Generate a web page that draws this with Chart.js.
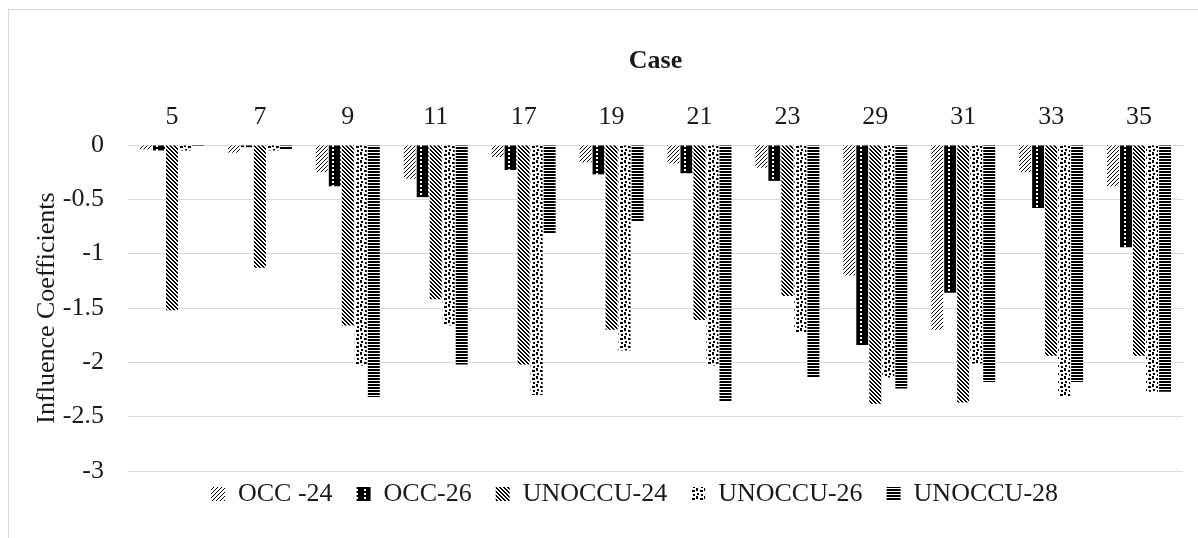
<!DOCTYPE html>
<html lang="en">
<head>
  <meta charset="UTF-8" />
  <title>Influence Coefficients by Case</title>
  <script src="https://cdn.jsdelivr.net/npm/chart.js"></script>
  <style>
    html, body { margin: 0; padding: 0; background: #fff; overflow: hidden; }
    #marco { position: absolute; left: 8px; top: 9px; width: 1400px; height: 800px; border: 1px solid #d9d9d9; }
    #grafico { position: absolute; left: 0; top: 0; }
  </style>
</head>
<body>
  <div id="marco"></div>
  <canvas id="grafico" width="1198" height="538"></canvas>

  <script>
    const cases = ["5", "7", "9", "11", "17", "19", "21", "23", "29", "31", "33", "35"];
    const occ24 = [-0.04, -0.07, -0.25, -0.31, -0.11, -0.16, -0.17, -0.21, -1.20, -1.70, -0.25, -0.38];
    const occ26 = [-0.05, -0.02, -0.38, -0.48, -0.23, -0.27, -0.26, -0.33, -1.84, -1.36, -0.58, -0.94];
    const unoccu24 = [-1.52, -1.13, -1.66, -1.42, -2.02, -1.70, -1.61, -1.39, -2.38, -2.37, -1.94, -1.94];
    const unoccu26 = [-0.05, -0.05, -2.03, -1.66, -2.30, -1.89, -2.03, -1.73, -2.14, -2.01, -2.32, -2.27];
    const unoccu28 = [-0.015, -0.04, -2.32, -2.02, -0.82, -0.70, -2.36, -2.14, -2.24, -2.18, -2.18, -2.27];
    const yTicks = [0, -0.5, -1, -1.5, -2, -2.5, -3];

    // tramas en blanco y negro como en el original
    function trama(tipo) {
      const c = document.createElement("canvas");
      const n = tipo === "horizontal" ? 6 : 8;
      c.width = n; c.height = n;
      const g = c.getContext("2d");
      g.fillStyle = tipo === "puntosBlancos" ? "#000" : "#fff";
      g.fillRect(0, 0, n, n);
      g.fillStyle = tipo === "puntosBlancos" ? "#fff" : "#000";
      for (let y = 0; y < n; y++) {
        for (let x = 0; x < n; x++) {
          let on = false;
          if (tipo === "diagFina") on = (x + y) % 4 === 0;
          if (tipo === "diagGruesa") on = ((x - y + 16) % 4) < 2;
          if (on) g.fillRect(x, y, 1, 1);
        }
      }
      if (tipo === "puntosBlancos") {
        g.fillRect(4, 1, 2, 2);
        g.fillRect(4, 5, 2, 2);
      }
      if (tipo === "confeti") {
        g.fillRect(0, 0, 2, 3);
        g.fillRect(4, 2, 3, 2);
        g.fillRect(1, 5, 2, 2);
        g.fillRect(5, 6, 2, 2);
      }
      if (tipo === "horizontal") {
        for (let y = 0; y < n; y += 3) g.fillRect(0, y, n, 2);
      }
      return g.createPattern(c, "repeat");
    }

    const fuente = "'Liberation Serif', 'Times New Roman', serif";
    const colorTexto = "#1a1a1a";

    // mueve la leyenda a su sitio bajo el área del gráfico
    const moverLeyenda = {
      id: "moverLeyenda",
      afterLayout(chart) {
        const l = chart.legend;
        l.top -= 14; l.bottom -= 14;
        l.left += 33; l.right += 33;
      }
    };

    new Chart(document.getElementById("grafico"), {
      type: "bar",
      data: {
        labels: cases,
        datasets: [
          { label: "OCC -24", data: occ24, backgroundColor: trama("diagFina") },
          { label: "OCC-26", data: occ26, backgroundColor: trama("puntosBlancos") },
          { label: "UNOCCU-24", data: unoccu24, backgroundColor: trama("diagGruesa") },
          { label: "UNOCCU-26", data: unoccu26, backgroundColor: trama("confeti") },
          { label: "UNOCCU-28", data: unoccu28, backgroundColor: trama("horizontal") }
        ]
      },
      options: {
        responsive: false,
        animation: false,
        categoryPercentage: 0.74,
        barPercentage: 0.92,
        layout: { padding: { top: 46, left: 20, right: 15, bottom: 7 } },
        scales: {
          x: {
            position: "top",
            afterFit: axis => { axis.height = 99; },
            grid: { display: false, drawTicks: false },
            border: { color: "#d9d9d9", width: 1 },
            ticks: { padding: 12, color: colorTexto, font: { family: fuente, size: 26 } },
            title: { display: true, text: "Case", color: colorTexto, padding: { top: 0, bottom: 8 },
              font: { family: fuente, size: 26, weight: "bold" } }
          },
          y: {
            min: -3,
            max: 0,
            afterBuildTicks: axis => { axis.ticks = yTicks.map(v => ({ value: v })); },
            afterFit: axis => { axis.width = 108; },
            grid: { color: "#d9d9d9", drawTicks: false },
            border: { display: false },
            ticks: { padding: 24, color: colorTexto, font: { family: fuente, size: 26 },
              callback: v => String(v) },
            title: { display: true, text: "Influence Coefficients", color: colorTexto, padding: { top: 12, bottom: 6 },
              font: { family: fuente, size: 26 } }
          }
        },
        plugins: {
          legend: {
            position: "bottom",
            labels: { boxWidth: 14, boxHeight: 14, padding: 24, color: colorTexto, font: { family: fuente, size: 26 } }
          },
          tooltip: { enabled: false }
        }
      },
      plugins: [moverLeyenda]
    });
  </script>
</body>
</html>
